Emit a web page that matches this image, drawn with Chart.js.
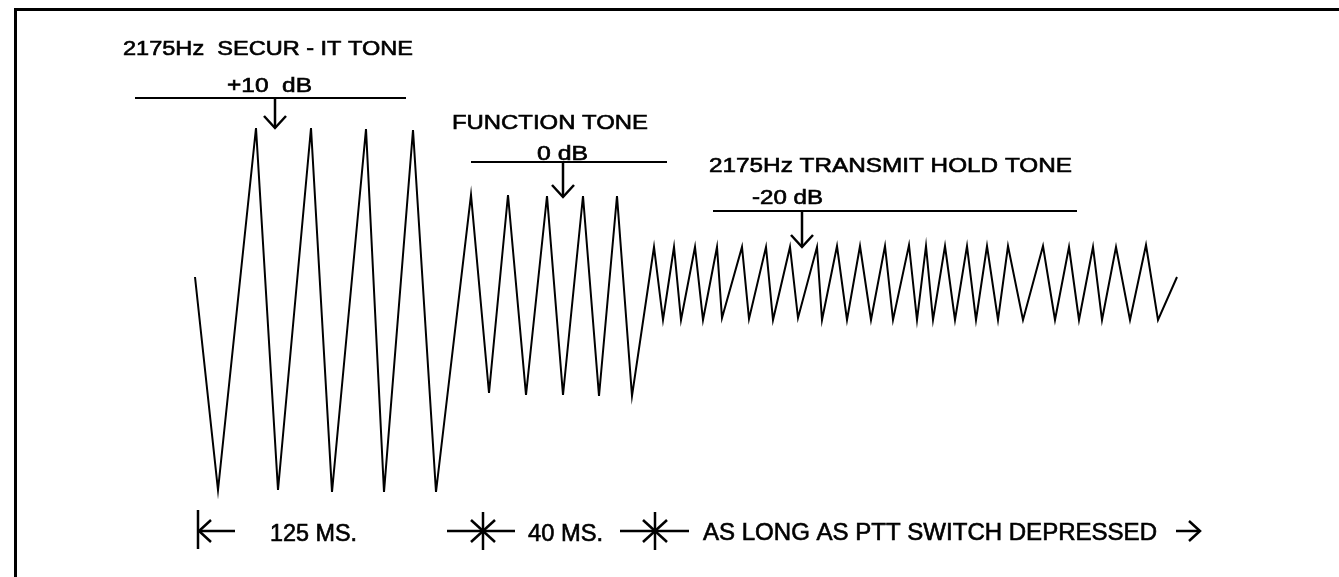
<!DOCTYPE html>
<html>
<head>
<meta charset="utf-8">
<script src="https://cdn.jsdelivr.net/npm/chart.js@4.4.0/dist/chart.umd.min.js"></script>
<style>
  html, body { margin: 0; padding: 0; background: #fff; }
  #wrap { width: 1339px; height: 577px; }
</style>
</head>
<body>
<div id="wrap"><canvas id="toneChart" width="1339" height="577"></canvas></div>
<script>
// waveform vertices (time units, level units)
const waveTime = [
  19.5, 21.8, 25.6, 27.8, 31.1, 33.2, 36.6, 38.4, 41.3, 43.6,
  47.1, 48.9, 50.8, 52.6, 54.7, 56.3, 58.3, 59.9, 61.7, 63.2,
  65.4, 66.3, 67.4, 68.1, 69.5, 70.3, 71.7, 72.2, 74.2, 74.9,
  76.6, 77.3, 79.0, 79.8, 81.7, 82.2, 83.7, 84.7, 86.0, 87.1,
  88.5, 89.3, 90.9, 91.7, 92.6, 93.3, 94.5, 95.5, 96.7, 97.6,
  98.7, 99.8, 100.8, 102.3, 104.3, 105.5, 106.9, 107.9, 109.3, 110.2,
  111.6, 113.0, 114.6, 115.8, 117.7
];
const waveLevel = [
  2.3, -19.0, 17.2, -19.0, 17.2, -19.2, 17.1, -19.2, 17.0, -19.2,
  10.5, -9.3, 10.5, -9.5, 10.4, -9.5, 10.4, -9.6, 10.4, -9.6,
  5.3, -2.0, 5.3, -2.0, 5.3, -2.0, 5.3, -1.8, 5.3, -1.9,
  5.3, -2.0, 5.3, -1.8, 5.3, -2.0, 5.4, -2.0, 5.4, -2.0,
  5.4, -2.0, 5.5, -2.0, 5.4, -2.0, 5.4, -2.0, 5.4, -2.0,
  5.4, -2.0, 5.4, -2.0, 5.4, -2.0, 5.3, -2.0, 5.3, -2.0,
  5.3, -2.0, 5.5, -2.0, 2.3
];

// tone segments: name, level text, reference bar start/end, bar level, arrow time, arrow tip
const toneNames = ['2175Hz  SECUR - IT TONE', 'FUNCTION TONE', '2175Hz TRANSMIT HOLD TONE'];
const toneLevels = ['+10  dB', '0 dB', '-20 dB'];
const barStart = [13.5, 47.1, 71.3];
const barEnd = [40.6, 66.7, 107.7];
const barLevel = [20.2, 13.8, 8.9];
const arrowTime = [27.5, 56.3, 80.2];
const arrowTip = [17.2, 10.3, 5.3];

// duration labels along the bottom
const durationLabels = ['125 MS.', '40 MS.', 'AS LONG AS PTT SWITCH DEPRESSED'];

// where the texts go: [left, right, baseline] in chart units
const nameBox = [[12.3, 41.3, 24.5], [45.2, 64.8, 17.1], [70.9, 107.2, 12.8]];
const levelBox = [[22.7, 31.2, 20.8], [53.7, 58.8, 14.0], [75.2, 82.3, 9.6]];
const durBox = [[27.0, 35.7, -24.1], [52.8, 60.3, -24.1], [70.3, 115.7, -24.0]];

const FONT = '"Liberation Sans", Arial, sans-serif';

function fitText(ctx, text, x1, x2, y, size) {
  ctx.font = size + 'px ' + FONT;
  const w = ctx.measureText(text).width;
  ctx.save();
  ctx.translate(x1, y);
  ctx.scale((x2 - x1) / w, 1);
  ctx.lineWidth = 0.6;
  ctx.fillText(text, 0, 0);
  ctx.strokeText(text, 0, 0);
  ctx.restore();
}

function line(ctx, a, b, c, d) {
  ctx.beginPath();
  ctx.moveTo(a, b);
  ctx.lineTo(c, d);
  ctx.stroke();
}

function star(ctx, cx, cy, left, right) {
  line(ctx, left, cy, right, cy);
  line(ctx, cx, cy - 19, cx, cy + 19);
  line(ctx, cx - 12, cy - 11, cx + 12, cy + 11);
  line(ctx, cx - 12, cy + 11, cx + 12, cy - 11);
}

const notesPlugin = {
  id: 'notes',
  afterDraw(chart) {
    const ctx = chart.ctx;
    const xs = chart.scales.x, ys = chart.scales.y;
    const px = v => xs.getPixelForValue(v);
    const py = v => ys.getPixelForValue(v);
    ctx.save();
    ctx.fillStyle = '#000';
    ctx.strokeStyle = '#000';

    // frame (top and left only)
    ctx.fillRect(14, 8, chart.width - 14, 3);
    ctx.fillRect(14, 8, 3, chart.height - 8);

    toneNames.forEach((name, i) => {
      fitText(ctx, name, px(nameBox[i][0]), px(nameBox[i][1]), py(nameBox[i][2]), 20);
      fitText(ctx, toneLevels[i], px(levelBox[i][0]), px(levelBox[i][1]), py(levelBox[i][2]), 20);
      ctx.lineWidth = 2;
      line(ctx, px(barStart[i]), py(barLevel[i]), px(barEnd[i]), py(barLevel[i]));
      // pointer arrow
      const ax = px(arrowTime[i]), tip = py(arrowTip[i]);
      ctx.lineWidth = 2.5;
      line(ctx, ax, py(barLevel[i]), ax, tip);
      ctx.beginPath();
      ctx.moveTo(ax - 11, tip - 12);
      ctx.lineTo(ax, tip);
      ctx.lineTo(ax + 11, tip - 12);
      ctx.stroke();
    });

    // bottom duration markers
    const my = py(-23.1);
    ctx.lineWidth = 2.5;
    line(ctx, px(19.8), py(-21.0), px(19.8), py(-24.9));
    line(ctx, px(19.9), my, px(23.5), my);
    ctx.beginPath();
    ctx.moveTo(px(19.9) + 12, my - 11);
    ctx.lineTo(px(19.9), my);
    ctx.lineTo(px(19.9) + 12, my + 11);
    ctx.stroke();
    star(ctx, px(48.3), my, px(44.7), px(51.5));
    star(ctx, px(65.5), my, px(62.0), px(68.9));
    line(ctx, px(117.6), my, px(120.0), my);
    ctx.beginPath();
    ctx.moveTo(px(120.0) - 11, my - 10);
    ctx.lineTo(px(120.0), my);
    ctx.lineTo(px(120.0) - 11, my + 10);
    ctx.stroke();

    durationLabels.forEach((t, i) => {
      fitText(ctx, t, px(durBox[i][0]), px(durBox[i][1]), py(durBox[i][2]), 23);
    });
    ctx.restore();
  }
};

new Chart(document.getElementById('toneChart'), {
  type: 'line',
  data: {
    datasets: [{
      data: waveTime.map((t, i) => ({ x: t, y: waveLevel[i] })),
      borderColor: '#000',
      borderWidth: 2,
      pointRadius: 0,
      tension: 0,
      fill: false
    }]
  },
  options: {
    responsive: false,
    animation: false,
    layout: { padding: 0 },
    plugins: { legend: { display: false }, tooltip: { enabled: false } },
    scales: {
      x: { type: 'linear', min: 0, max: 133.9, display: false },
      y: { type: 'linear', min: -27.7, max: 30, display: false }
    }
  },
  plugins: [notesPlugin]
});
</script>
</body>
</html>
